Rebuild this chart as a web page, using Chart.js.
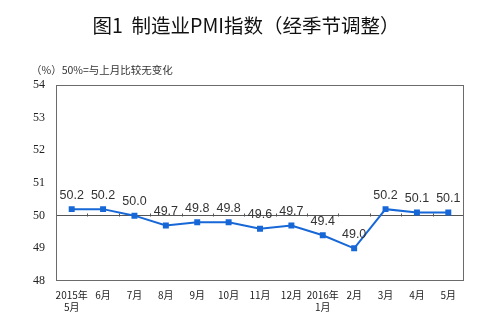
<!DOCTYPE html>
<html>
<head>
<meta charset="utf-8">
<script src="https://cdn.jsdelivr.net/npm/chart.js@4.4.0/dist/chart.umd.min.js"></script>
<style>
  body { margin: 0; background: #fff; }
  #wrap { width: 498px; height: 325px; }
</style>
</head>
<body>
<div id="wrap"><canvas id="myChart" width="498" height="325"></canvas></div>
<script>
var titleText = "图1  制造业PMI指数（经季节调整）";
var noteText = "（%）50%=与上月比较无变化";
var months = [["2015年", "5月"], "6月", "7月", "8月", "9月", "10月", "11月", "12月", ["2016年", "1月"], "2月", "3月", "4月", "5月"];
var pmi = [50.2, 50.2, 50.0, 49.7, 49.8, 49.8, 49.6, 49.7, 49.4, 49.0, 50.2, 50.1, 50.1];
var yTicks = [48, 49, 50, 51, 52, 53, 54];

// title, note, frame, tick marks on the 50 line and value labels
var extras = {
  id: "extras",
  beforeDatasetsDraw: function (chart) {
    var ctx = chart.ctx;
    var area = chart.chartArea;
    var xs = chart.scales.x;
    var ys = chart.scales.y;
    ctx.save();
    ctx.strokeStyle = "#6b6b6b";
    ctx.lineWidth = 1;
    ctx.strokeRect(area.left + 0.5, area.top + 0.5, area.right - area.left - 1, area.bottom - area.top - 1);
    var y50 = Math.round(ys.getPixelForValue(50)) + 0.5;
    ctx.strokeStyle = "#555";
    ctx.beginPath();
    for (var i = 1; i < pmi.length; i++) {
      var x = Math.round((xs.getPixelForValue(i - 1) + xs.getPixelForValue(i)) / 2) + 0.5;
      ctx.moveTo(x, y50);
      ctx.lineTo(x, y50 - 3);
    }
    ctx.stroke();
    ctx.restore();
  },
  afterDatasetsDraw: function (chart) {
    var ctx = chart.ctx;
    var pts = chart.getDatasetMeta(0).data;
    ctx.save();
    ctx.fillStyle = "#333";
    ctx.font = "12.5px 'Liberation Sans', Arial, sans-serif";
    ctx.textAlign = "center";
    ctx.textBaseline = "middle";
    for (var i = 0; i < pts.length; i++) {
      ctx.fillText(pmi[i].toFixed(1), pts[i].x, pts[i].y - 14);
    }
    ctx.fillStyle = "#111";
    ctx.font = "19.5px 'Noto Sans CJK SC', sans-serif";
    ctx.fillText(titleText, 246, 26);
    ctx.fillStyle = "#333";
    ctx.font = "10.5px 'Noto Sans CJK SC', sans-serif";
    ctx.textAlign = "left";
    ctx.fillText(noteText, 31, 70);
    ctx.restore();
  }
};

window.addEventListener("load", function () {
  var chartdata = document.getElementById("myChart").getContext("2d");
  var chart = new Chart(chartdata, {
    type: "line",
    data: {
      labels: months,
      datasets: [
        {
          label: "PMI",
          data: pmi,
          borderColor: "#1767d6",
          backgroundColor: "#1767d6",
          borderWidth: 2,
          pointStyle: "rect",
          pointRadius: 2.8,
          tension: 0
        }
      ]
    },
    options: {
      responsive: false,
      animation: false,
      layout: { padding: { top: 85, right: 34, left: 0, bottom: 0 } },
      plugins: { legend: { display: false }, tooltip: { enabled: false } },
      scales: {
        x: {
          offset: true,
          grid: { display: false, drawTicks: false },
          border: { display: false },
          ticks: {
            autoSkip: false,
            maxRotation: 0,
            padding: 8,
            color: "#222",
            font: { size: 10, family: "'Noto Sans CJK SC', sans-serif" }
          },
          afterFit: function (scale) { scale.height = 44; }
        },
        y: {
          min: 48,
          max: 54,
          afterBuildTicks: function (scale) {
            scale.ticks = yTicks.map(function (v) { return { value: v }; });
          },
          grid: {
            drawTicks: false,
            color: function (c) { return c.tick && c.tick.value === 50 ? "#555" : "transparent"; }
          },
          border: { display: false },
          ticks: {
            padding: 11,
            color: "#222",
            font: { size: 12, family: "'Liberation Serif', serif" }
          },
          afterFit: function (scale) { scale.width = 56; }
        }
      }
    },
    plugins: [extras]
  });
});
</script>
</body>
</html>
